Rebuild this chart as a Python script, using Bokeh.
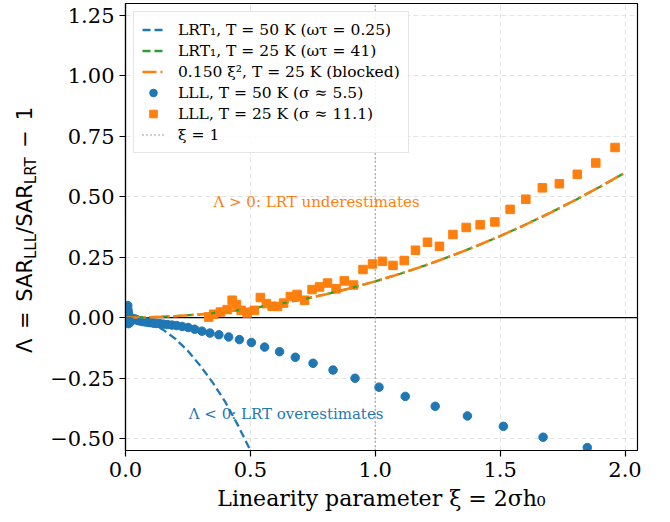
import math
from bokeh.plotting import figure
from bokeh.layouts import row
from bokeh.models import Range1d, FixedTicker, Span, Label, Legend, LegendItem, Div
from bokeh.embed import file_html
from bokeh.resources import INLINE

# ---------------- data ----------------
xi_lll50 = [0.008, 0.009, 0.010, 0.011, 0.012, 0.013, 0.014, 0.016, 0.018, 0.020,
            0.022, 0.025, 0.028, 0.031, 0.034, 0.038, 0.042, 0.046, 0.051, 0.056,
            0.062, 0.069, 0.076, 0.084, 0.093, 0.102, 0.113, 0.125, 0.138, 0.152,
            0.168, 0.186, 0.205, 0.227, 0.251, 0.277, 0.306, 0.338, 0.374, 0.413,
            0.456, 0.504, 0.557, 0.617, 0.680, 0.751, 0.831, 0.919, 1.015, 1.120,
            1.240, 1.369, 1.513, 1.672, 1.849]
lam_lll50 = [0.040, 0.050, 0.030, 0.020, -0.025, 0.010, -0.015, 0.000, -0.020, -0.008,
             -0.012, -0.005, -0.010, -0.006, -0.008, -0.006, -0.008, -0.010, -0.012, -0.013,
             -0.014, -0.016, -0.017, -0.018, -0.020, -0.021, -0.023, -0.024, -0.025, -0.027,
             -0.029, -0.031, -0.033, -0.037, -0.041, -0.048, -0.056, -0.064, -0.071, -0.080,
             -0.091, -0.103, -0.122, -0.141, -0.164, -0.189, -0.217, -0.251, -0.288, -0.326,
             -0.367, -0.407, -0.450, -0.495, -0.538]

xi_lll25 = [0.333, 0.353, 0.380, 0.407, 0.427, 0.444, 0.463, 0.487, 0.516, 0.540,
            0.564, 0.587, 0.609, 0.633, 0.660, 0.687, 0.717, 0.747, 0.777, 0.809,
            0.843, 0.876, 0.913, 0.951, 0.989, 1.029, 1.071, 1.116, 1.161, 1.209,
            1.257, 1.311, 1.364, 1.420, 1.479, 1.540, 1.603, 1.669, 1.737, 1.809,
            1.883, 1.960]
lam_lll25 = [0.002, 0.014, 0.023, 0.033, 0.072, 0.054, 0.030, 0.019, 0.030, 0.083,
             0.058, 0.047, 0.046, 0.060, 0.087, 0.096, 0.072, 0.116, 0.127, 0.143,
             0.119, 0.152, 0.135, 0.199, 0.222, 0.233, 0.216, 0.236, 0.279, 0.312,
             0.295, 0.344, 0.373, 0.384, 0.396, 0.448, 0.490, 0.537, 0.554, 0.593,
             0.640, 0.704]

xi_lrt50 = [0.00, 0.05, 0.10, 0.15, 0.20, 0.25, 0.30, 0.35, 0.40, 0.45, 0.50]
lam_lrt50 = [0.000, -0.006, -0.022, -0.050, -0.088, -0.138, -0.200, -0.270, -0.350, -0.445, -0.550]

xi_lrt25 = [0.0, 0.1, 0.2, 0.3, 0.4, 0.5, 0.6, 0.7, 0.8, 0.9, 1.0,
            1.1, 1.2, 1.3, 1.4, 1.5, 1.6, 1.7, 1.8, 1.9, 2.0]
lam_lrt25 = [0.000, 0.0015, 0.006, 0.0135, 0.024, 0.0375, 0.054, 0.0735, 0.096, 0.1215, 0.150,
             0.1815, 0.216, 0.2535, 0.294, 0.3375, 0.384, 0.4335, 0.486, 0.5415, 0.600]

xi_fit = [0.0, 0.1, 0.2, 0.3, 0.4, 0.5, 0.6, 0.7, 0.8, 0.9, 1.0,
          1.1, 1.2, 1.3, 1.4, 1.5, 1.6, 1.7, 1.8, 1.9, 2.0]
lam_fit = [0.000, 0.0015, 0.006, 0.0135, 0.024, 0.0375, 0.054, 0.0735, 0.096, 0.1215, 0.150,
           0.1815, 0.216, 0.2535, 0.294, 0.3375, 0.384, 0.4335, 0.486, 0.5415, 0.600]

xi_marker = 1.0
x_lim = (0.0, 2.05)
y_lim = (-0.55, 1.30)

x_ticks = [0.0, 0.5, 1.0, 1.5, 2.0]
x_tick_labels = ["0.0", "0.5", "1.0", "1.5", "2.0"]
y_ticks = [-0.5, -0.25, 0.0, 0.25, 0.5, 0.75, 1.0, 1.25]
y_tick_labels = ["\u22120.50", "\u22120.25", "0.00", "0.25", "0.50", "0.75", "1.00", "1.25"]

legend_labels = ["LRT\u2081, T = 50 K (\u03c9\u03c4 = 0.25)",
                 "LRT\u2081, T = 25 K (\u03c9\u03c4 = 41)",
                 "0.150 \u03be\u00b2, T = 25 K (blocked)",
                 "LLL, T = 50 K (\u03c3 \u2248 5.5)",
                 "LLL, T = 25 K (\u03c3 \u2248 11.1)",
                 "\u03be = 1"]

BLUE = "#1f77b4"
ORANGE = "#ff7f0e"
GREEN = "#2ca02c"

W, H = 670, 522
LABEL_W = 42

# ---------------- y-axis label (HTML so subscripts are real text) ----------------
ylabel_html = (
    '<div style="position:relative;width:%dpx;height:%dpx;">'
    '<div style="position:absolute;left:26px;top:230px;'
    'transform:translate(-50%%,-50%%) rotate(-90deg);white-space:nowrap;'
    'font-family:\'DejaVu Sans\';font-size:21px;line-height:21px;color:#000;word-spacing:3px;">'
    '\u039b = SAR<span style="font-size:15px;position:relative;top:4px;">LLL</span>'
    '/SAR<span style="font-size:15px;position:relative;top:4px;">LRT</span> \u2212 1'
    '</div></div>' % (LABEL_W, H)
)
ydiv = Div(text=ylabel_html, width=LABEL_W, height=H, margin=0)

# ---------------- figure ----------------
p = figure(width=W - LABEL_W, height=H, output_backend="svg", toolbar_location=None,
           x_range=Range1d(*x_lim), y_range=Range1d(*y_lim), margin=0)
p.min_border_left = 125 - LABEL_W
p.min_border_right = 33
p.min_border_top = 3
p.min_border_bottom = 72
p.background_fill_color = "white"
p.border_fill_color = "white"
p.outline_line_color = "black"
p.outline_line_width = 1.2

for g in (p.xgrid, p.ygrid):
    g.grid_line_color = "#d9d9d9"
    g.grid_line_dash = "5 3"
    g.grid_line_width = 1
    g.grid_line_alpha = 0.7
p.xgrid.ticker = FixedTicker(ticks=x_ticks)
p.ygrid.ticker = FixedTicker(ticks=y_ticks)

p.xaxis.ticker = FixedTicker(ticks=x_ticks)
p.yaxis.ticker = FixedTicker(ticks=y_ticks)
p.xaxis.major_label_overrides = {t: l for t, l in zip(x_ticks, x_tick_labels)}
p.yaxis.major_label_overrides = {t: l for t, l in zip(y_ticks, y_tick_labels)}
for ax in (p.xaxis[0], p.yaxis[0]):
    ax.major_label_text_font = "DejaVu Serif"
    ax.major_label_text_font_size = "21px"
    ax.major_label_text_color = "black"
    ax.axis_line_color = "black"
    ax.axis_line_width = 1.2
    ax.major_tick_line_color = "black"
    ax.major_tick_line_width = 1.2
    ax.major_tick_out = 6
    ax.major_tick_in = 0
    ax.minor_tick_out = 0
    ax.minor_tick_in = 0
    ax.major_label_standoff = 5
p.xaxis.axis_label = "Linearity parameter \u03be = 2\u03c3h\u2080"
p.xaxis.axis_label_text_font = "DejaVu Serif"
p.xaxis.axis_label_text_font_size = "22px"
p.xaxis.axis_label_text_font_style = "normal"
p.xaxis.axis_label_text_color = "black"
p.xaxis.axis_label_standoff = 6

p.add_layout(Span(location=0, dimension="width", line_color="black",
                  line_width=1.2, level="underlay"))

r_lll50 = p.scatter(xi_lll50, lam_lll50, marker="circle", size=8.5,
                    fill_color=BLUE, line_color=BLUE)
r_lll25 = p.scatter(xi_lll25, lam_lll25, marker="square", size=8.5,
                    fill_color=ORANGE, line_color=ORANGE)

r_lrt25 = p.line(xi_lrt25, lam_lrt25, line_color=GREEN, line_width=2.3, line_dash="8 4")
r_fit = p.line(xi_fit, lam_fit, line_color=ORANGE, line_width=2.5, line_dash="14 4 2 4")
r_lrt50 = p.line(xi_lrt50, lam_lrt50, line_color=BLUE, line_width=2.3, line_dash="8 4")
r_xi1 = p.line([xi_marker, xi_marker], list(y_lim), line_color="gray",
               line_width=1.5, line_dash="1 3")

p.add_layout(Label(x=0.352, y=0.478, text="\u039b > 0: LRT underestimates",
                   text_font="DejaVu Serif", text_font_size="15px", text_color=ORANGE,
                   text_align="left", text_baseline="middle"))
p.add_layout(Label(x=0.253, y=-0.400, text="\u039b < 0: LRT overestimates",
                   text_font="DejaVu Serif", text_font_size="15px", text_color=BLUE,
                   text_align="left", text_baseline="middle"))

items = [LegendItem(label=legend_labels[0], renderers=[r_lrt50]),
         LegendItem(label=legend_labels[1], renderers=[r_lrt25]),
         LegendItem(label=legend_labels[2], renderers=[r_fit]),
         LegendItem(label=legend_labels[3], renderers=[r_lll50]),
         LegendItem(label=legend_labels[4], renderers=[r_lll25]),
         LegendItem(label=legend_labels[5], renderers=[r_xi1])]
leg = Legend(items=items, location="top_left")
leg.margin = 8
leg.padding = 8
leg.spacing = 2
leg.glyph_width = 22
leg.glyph_height = 19
leg.label_height = 19
leg.label_standoff = 14
leg.label_text_font = "DejaVu Serif"
leg.label_text_font_size = "15.5px"
leg.label_text_color = "black"
leg.border_line_color = "#cccccc"
leg.border_line_width = 1
leg.background_fill_alpha = 0.85
p.add_layout(leg)

layout = row(ydiv, p, spacing=0, margin=0)
open("out.html", "w").write(file_html(layout, INLINE))
